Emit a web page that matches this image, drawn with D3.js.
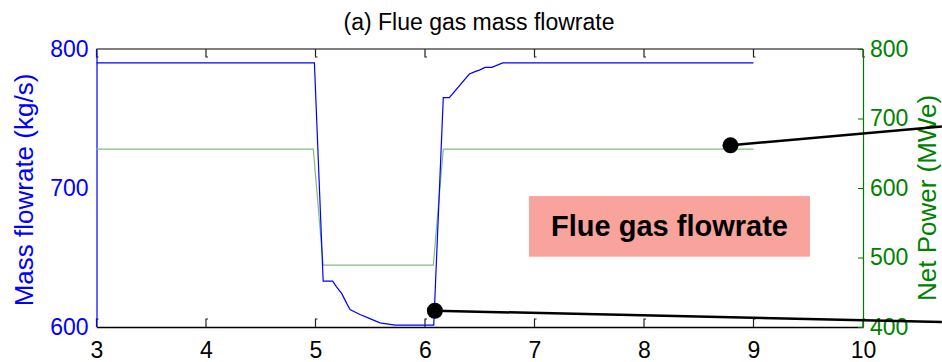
<!DOCTYPE html>
<html>
<head>
<meta charset="utf-8">
<script src="https://cdn.jsdelivr.net/npm/d3@7"></script>
<style>
  html, body { margin: 0; padding: 0; background: #fff; }
  svg { display: block; font-family: "Liberation Sans", Arial, sans-serif; }
</style>
</head>
<body>
<div id="chart"></div>
<script>
// Flue gas mass flowrate (left axis, kg/s) vs time
const flowTime = [3, 4.99, 5.07, 5.157, 5.19, 5.24, 5.285, 5.315, 5.406, 5.497, 5.589, 5.726, 6.08, 6.167, 6.222, 6.405, 6.457, 6.502, 6.548, 6.61, 6.71, 9.0];
const flowValue = [790, 790, 633, 633, 629, 624, 617, 612.6, 609, 606, 603, 601.4, 601.4, 765, 765, 782, 783.7, 785, 786.8, 786.8, 790, 790];

// Net power (right axis, MWe)
const powerTime = [3, 4.98, 5.07, 6.076, 6.167, 9.0];
const powerValue = [656, 656, 489, 489, 656, 656];

// tick labels
const xTicks = [3, 4, 5, 6, 7, 8, 9, 10];
const leftTicks = [600, 700, 800];
const rightTicks = [400, 500, 600, 700, 800];

// callout markers (x, left-axis value) and where their leader lines end
const markerX = [6.09, 8.79];
const markerY = [611.7, 730.7];
const leaderEndX = [10.72, 10.72];
const leaderEndY = [603.6, 744.2];

// label box in data units
const boxX = [6.95, 9.516];
const boxY = [650.6, 694.2];
const boxText = 'Flue gas flowrate';

const W = 942, H = 362;
const plot = { left: 96.5, right: 863, top: 49, bottom: 327 };

const svg = d3.select('#chart').append('svg')
    .attr('width', W)
    .attr('height', H);

const x = d3.scaleLinear().domain([3, 10]).range([plot.left, plot.right]);
const yL = d3.scaleLinear().domain([600, 800]).range([plot.bottom, plot.top]);
const yR = d3.scaleLinear().domain([400, 800]).range([plot.bottom, plot.top]);

// title
svg.append('text')
    .attr('x', 479)
    .attr('y', 30)
    .attr('text-anchor', 'middle')
    .style('font-size', '23px')
    .style('fill', '#000')
    .text('(a) Flue gas mass flowrate');

// frame lines
svg.append('line')
    .attr('x1', plot.left).attr('x2', plot.right)
    .attr('y1', plot.top).attr('y2', plot.top)
    .attr('stroke', '#000').attr('stroke-width', 1.2);

// bottom axis
const xAxis = svg.append('g')
    .attr('transform', `translate(0,${plot.bottom})`)
    .call(d3.axisBottom(x).tickValues(xTicks).tickSize(0).tickPadding(15).tickFormat(d3.format('d')));
xAxis.select('.domain').attr('stroke', '#000').attr('stroke-width', 1.5);
xAxis.selectAll('text')
    .style('font-size', '23px')
    .style('font-family', '"Liberation Sans", Arial, sans-serif')
    .style('fill', '#000');

// black tick hooks at top and bottom
xTicks.forEach(t => {
    const px = x(t);
    svg.append('path')
        .attr('d', `M${px},${plot.top}V${plot.top + 8}h2`)
        .attr('fill', 'none').attr('stroke', '#222').attr('stroke-width', 1.2);
    svg.append('path')
        .attr('d', `M${px},${plot.bottom}V${plot.bottom - 8}h2`)
        .attr('fill', 'none').attr('stroke', '#222').attr('stroke-width', 1.2);
});

// left axis (blue)
const left = svg.append('g')
    .attr('transform', `translate(${plot.left},0)`)
    .call(d3.axisLeft(yL).tickValues(leftTicks).tickSize(0).tickPadding(8));
left.select('.domain').attr('stroke', '#0000ff').attr('stroke-width', 1.2);
left.selectAll('text')
    .style('font-size', '23px')
    .style('font-family', '"Liberation Sans", Arial, sans-serif')
    .style('fill', '#0000ff');

// right axis (green)
const right = svg.append('g')
    .attr('transform', `translate(${plot.right},0)`)
    .call(d3.axisRight(yR).tickValues(rightTicks).tickSizeInner(-5).tickSizeOuter(0).tickPadding(7));
right.select('.domain').attr('stroke', '#007a00').attr('stroke-width', 1.2);
right.selectAll('line').attr('stroke', '#007a00');
right.selectAll('text')
    .style('font-size', '23px')
    .style('font-family', '"Liberation Sans", Arial, sans-serif')
    .style('fill', '#008000');

// axis titles
svg.append('text')
    .attr('transform', `translate(33,190) rotate(-90)`)
    .attr('text-anchor', 'middle')
    .style('font-size', '26px')
    .style('fill', '#0000ff')
    .text('Mass flowrate (kg/s)');

svg.append('text')
    .attr('transform', `translate(936,198) rotate(-90)`)
    .attr('text-anchor', 'middle')
    .style('font-size', '26px')
    .style('fill', '#008000')
    .text('Net Power (MWe)');

// series
const flowLine = d3.line().x((d, i) => x(flowTime[i])).y(d => yL(d));
const powerLine = d3.line().x((d, i) => x(powerTime[i])).y(d => yR(d));

svg.append('path')
    .datum(powerValue)
    .attr('d', powerLine)
    .attr('fill', 'none')
    .attr('stroke', '#7fbf7f')
    .attr('stroke-width', 1.2);

svg.append('path')
    .datum(flowValue)
    .attr('d', flowLine)
    .attr('fill', 'none')
    .attr('stroke', '#0000ff')
    .attr('stroke-width', 1.2);

// label box
svg.append('rect')
    .attr('x', x(boxX[0]))
    .attr('y', yL(boxY[1]))
    .attr('width', x(boxX[1]) - x(boxX[0]))
    .attr('height', yL(boxY[0]) - yL(boxY[1]))
    .attr('fill', '#f8a39b');

svg.append('text')
    .attr('x', (x(boxX[0]) + x(boxX[1])) / 2)
    .attr('y', (yL(boxY[0]) + yL(boxY[1])) / 2 + 10)
    .attr('text-anchor', 'middle')
    .style('font-size', '29px')
    .style('font-weight', 'bold')
    .style('fill', '#000')
    .text(boxText);

// callouts
markerX.forEach((mx, i) => {
    svg.append('line')
        .attr('x1', x(mx)).attr('y1', yL(markerY[i]))
        .attr('x2', x(leaderEndX[i])).attr('y2', yL(leaderEndY[i]))
        .attr('stroke', '#000')
        .attr('stroke-width', 2.5);
    svg.append('circle')
        .attr('cx', x(mx))
        .attr('cy', yL(markerY[i]))
        .attr('r', 8)
        .attr('fill', '#000');
});
</script>
</body>
</html>
